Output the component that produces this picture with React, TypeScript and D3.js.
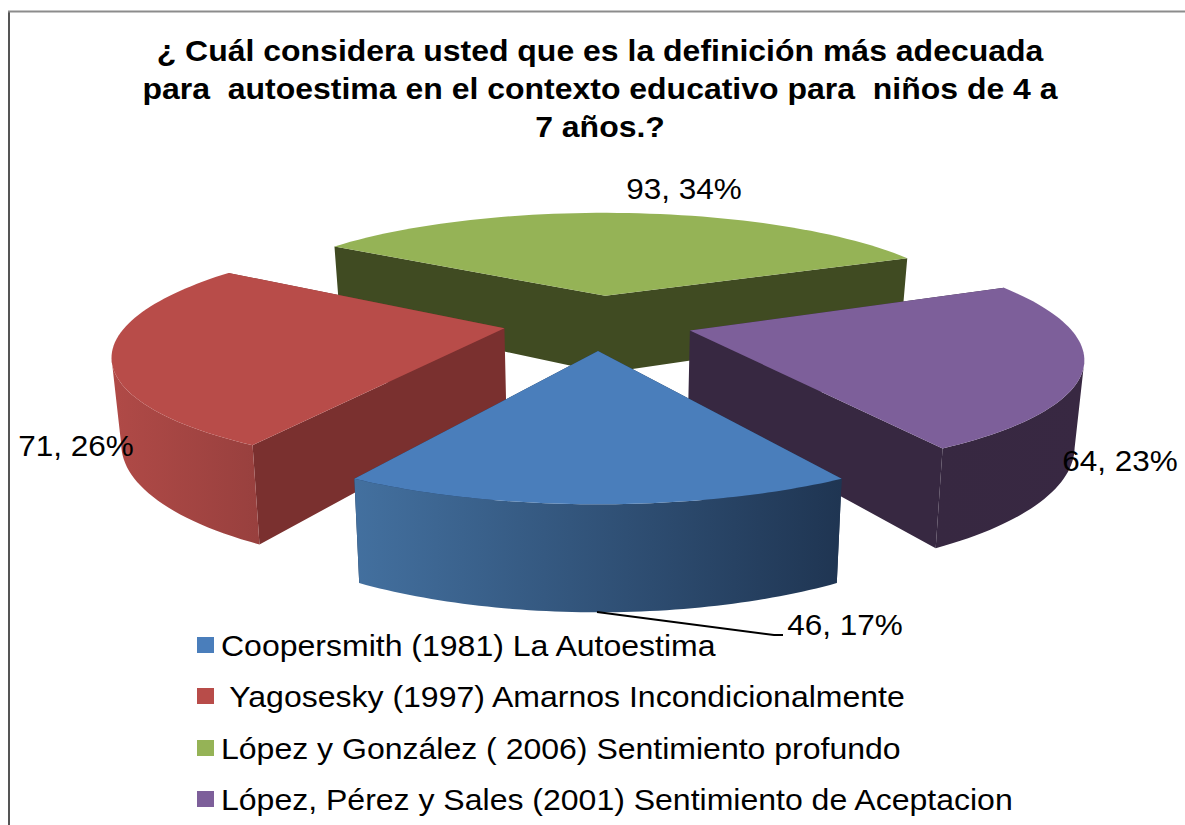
import React from "react";
import * as d3 from "d3";

const categories = [
  "Coopersmith (1981) La Autoestima",
  " Yagosesky (1997) Amarnos Incondicionalmente",
  "López y González ( 2006) Sentimiento profundo",
  "López, Pérez y Sales (2001) Sentimiento de Aceptacion",
];
const values = [46, 71, 93, 64];
const percents = [17, 26, 34, 23];
const titleLines = [
  "¿ Cuál considera usted que es la definición más adecuada",
  "para  autoestima en el contexto educativo para  niños de 4 a",
  "7 años.?",
];
const topColors = ["#4a7ebb", "#b84c49", "#95b356", "#7d5f9a"];
const sideColors = ["#1f3552", "#7a302f", "#404b22", "#372841"];
const wallFrom = ["#43709f", "#b04a47", "#404b22", "#372841"];
const wallTo = ["#1f3552", "#98403e", "#404b22", "#382842"];

const width = 1185;
const height = 825;

// pie geometry
const cx = 598;
const cy = 322;
const R = 376;
const focal = 1880;
const explode = 95;
const tilt = 0.29;
const depth = 81;
const converge = 0.98;

// label spots, same order as the values
const labelX = [845, 76, 684, 1120];
const labelY = [624, 445, 188, 460];

const legendY = [645, 696, 748, 799];

// world point on the pie plane -> screen
const project = (X: number, Y: number, drop: number): [number, number] => {
  const k = focal / (focal - Y);
  const sx = cx + X * k;
  const sy = cy + Y * tilt * k + drop * depth * k;
  return [drop ? cx + (sx - cx) * converge : sx, sy];
};

const start = Math.PI - (Math.PI * values[0]) / d3.sum(values);
const slices = d3
  .pie<number>()
  .sort(null)
  .startAngle(start)
  .endAngle(start + 2 * Math.PI)(values);

const line = d3.line();

// same winding for every subpath, so overlapping cut faces don't cancel out
const closed = (pts: [number, number][]) =>
  line(d3.polygonArea(pts) < 0 ? pts.slice().reverse() : pts)! + "Z";

const App = () => {
  const parts = slices.map((s, i) => {
    const mid = (s.startAngle + s.endAngle) / 2;
    const ox = explode * Math.sin(mid);
    const oy = -explode * Math.cos(mid);
    const at = (a: number, r: number, drop: number) =>
      project(ox + r * Math.sin(a), oy - r * Math.cos(a), drop);
    const angles = d3.range(0, 61).map((j) => s.startAngle + ((s.endAngle - s.startAngle) * j) / 60);
    const rim = angles.map((a) => at(a, R, 0));
    const top = line([at(0, 0, 0), ...rim])! + "Z";
    const cuts =
      closed([at(0, 0, 0), at(s.startAngle, R, 0), at(s.startAngle, R, 1), at(0, 0, 1)]) +
      closed([at(0, 0, 0), at(s.endAngle, R, 0), at(s.endAngle, R, 1), at(0, 0, 1)]);
    // the visible rim wall runs clockwise from the rim's rightmost point to its leftmost
    const iRight = d3.greatestIndex(rim, (p) => p[0]);
    const iLeft = d3.leastIndex(rim, (p) => p[0]);
    const front = iRight < iLeft ? angles.slice(iRight, iLeft + 1) : [];
    const outer = front.length
      ? line([...front.map((a) => at(a, R, 0)), ...front.slice().reverse().map((a) => at(a, R, 1))])! + "Z"
      : null;
    return { i, top, cuts, outer };
  });

  // back to front
  const order = [2, 1, 3, 0];

  return (
    <svg
      width={width}
      height={height}
      style={{ position: "absolute", left: 0, top: 0, background: "#fff" }}
      fontFamily="'Liberation Sans', Arial, sans-serif"
    >
      <defs>
        {topColors.map((_, i) => (
          <linearGradient key={i} id={`wall${i}`} x1="0" x2="1" y1="0" y2="0">
            <stop offset="0" stopColor={wallFrom[i]} />
            <stop offset="1" stopColor={wallTo[i]} />
          </linearGradient>
        ))}
      </defs>

      <line x1={9} x2={9} y1={11} y2={height} stroke="#555" strokeWidth={2} />
      <line x1={8} x2={width} y1={11.5} y2={11.5} stroke="#8c8c8c" strokeWidth={2} />

      <g fontSize={30} fontWeight="bold" textAnchor="middle" fill="#000">
        {titleLines.map((t, i) => (
          <text key={i} transform={`translate(600,${61 + i * 38}) scale(1.066,1)`} style={{ whiteSpace: "pre" }}>
            {t}
          </text>
        ))}
      </g>

      {order.map((o) => {
        const p = parts[o];
        return (
          <g key={o}>
            <path d={p.cuts} fill={sideColors[o]} />
            {p.outer && <path d={p.outer} fill={`url(#wall${o})`} />}
            <path d={p.top} fill={topColors[o]} />
          </g>
        );
      })}

      <polyline points="597,612 774,635 783,635" fill="none" stroke="#000" strokeWidth={2} />

      <g fontSize={30} textAnchor="middle" fill="#000">
        {values.map((v, i) => (
          <text key={i} transform={`translate(${labelX[i]},${labelY[i]}) scale(1.05,1)`} dy="0.36em">
            {`${v}, ${percents[i]}%`}
          </text>
        ))}
      </g>

      {categories.map((c, i) => (
        <g key={i}>
          <rect x={197} y={legendY[i] - 8} width={17} height={16} fill={topColors[i]} />
          <text
            transform={`translate(221,${legendY[i]}) scale(1.067,1)`}
            dy="0.36em"
            fontSize={30}
            fill="#000"
            style={{ whiteSpace: "pre" }}
          >
            {c}
          </text>
        </g>
      ))}
    </svg>
  );
};

export default App;
